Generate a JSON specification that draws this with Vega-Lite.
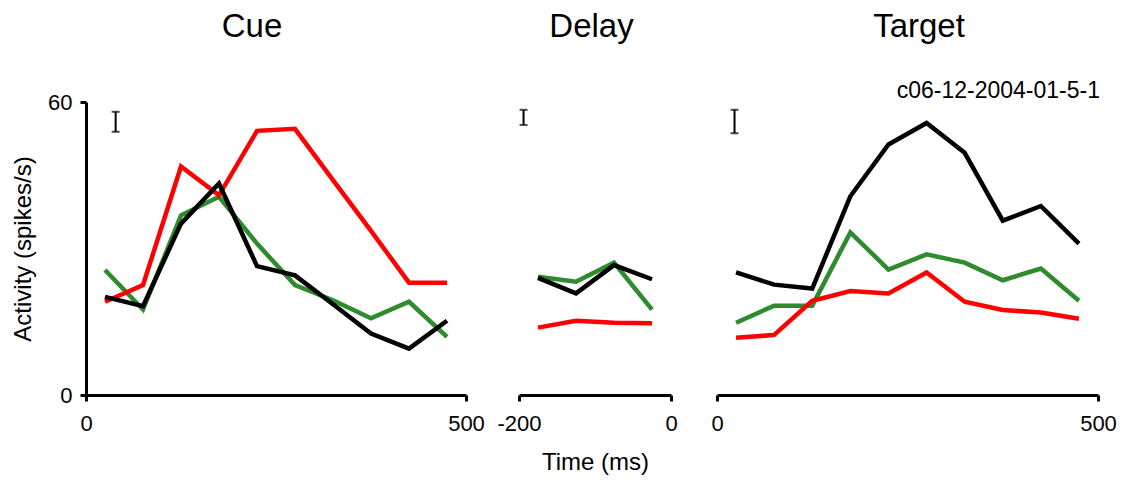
{
  "$schema": "https://vega.github.io/schema/vega-lite/v6.json",
  "padding": {"left": 11, "top": 10, "right": 5, "bottom": 5},
  "background": "white",
  "bounds": "flush",
  "spacing": 53,
  "datasets": {
    "rates": [
      {"panel": "Cue", "cond": "green", "t": 25, "rate": 25.6},
      {"panel": "Cue", "cond": "green", "t": 75, "rate": 17.5},
      {"panel": "Cue", "cond": "green", "t": 125, "rate": 36.8},
      {"panel": "Cue", "cond": "green", "t": 175, "rate": 40.6},
      {"panel": "Cue", "cond": "green", "t": 225, "rate": 31.0},
      {"panel": "Cue", "cond": "green", "t": 275, "rate": 22.5},
      {"panel": "Cue", "cond": "green", "t": 325, "rate": 19.4},
      {"panel": "Cue", "cond": "green", "t": 375, "rate": 15.7},
      {"panel": "Cue", "cond": "green", "t": 425, "rate": 19.1},
      {"panel": "Cue", "cond": "green", "t": 475, "rate": 11.9},
      {"panel": "Cue", "cond": "red", "t": 25, "rate": 19.1},
      {"panel": "Cue", "cond": "red", "t": 75, "rate": 22.5},
      {"panel": "Cue", "cond": "red", "t": 125, "rate": 46.8},
      {"panel": "Cue", "cond": "red", "t": 175, "rate": 40.9},
      {"panel": "Cue", "cond": "red", "t": 225, "rate": 54.1},
      {"panel": "Cue", "cond": "red", "t": 275, "rate": 54.5},
      {"panel": "Cue", "cond": "red", "t": 325, "rate": 44.0},
      {"panel": "Cue", "cond": "red", "t": 375, "rate": 33.6},
      {"panel": "Cue", "cond": "red", "t": 425, "rate": 23.0},
      {"panel": "Cue", "cond": "red", "t": 475, "rate": 23.0},
      {"panel": "Cue", "cond": "black", "t": 25, "rate": 20.1},
      {"panel": "Cue", "cond": "black", "t": 75, "rate": 18.2},
      {"panel": "Cue", "cond": "black", "t": 125, "rate": 35.1},
      {"panel": "Cue", "cond": "black", "t": 175, "rate": 43.3},
      {"panel": "Cue", "cond": "black", "t": 225, "rate": 26.4},
      {"panel": "Cue", "cond": "black", "t": 275, "rate": 24.5},
      {"panel": "Cue", "cond": "black", "t": 325, "rate": 18.6},
      {"panel": "Cue", "cond": "black", "t": 375, "rate": 12.6},
      {"panel": "Cue", "cond": "black", "t": 425, "rate": 9.5},
      {"panel": "Cue", "cond": "black", "t": 475, "rate": 15.2},
      {"panel": "Delay", "cond": "green", "t": -175, "rate": 24.2},
      {"panel": "Delay", "cond": "green", "t": -125, "rate": 23.2},
      {"panel": "Delay", "cond": "green", "t": -75, "rate": 27.1},
      {"panel": "Delay", "cond": "green", "t": -25, "rate": 17.5},
      {"panel": "Delay", "cond": "red", "t": -175, "rate": 13.8},
      {"panel": "Delay", "cond": "red", "t": -125, "rate": 15.2},
      {"panel": "Delay", "cond": "red", "t": -75, "rate": 14.8},
      {"panel": "Delay", "cond": "red", "t": -25, "rate": 14.7},
      {"panel": "Delay", "cond": "black", "t": -175, "rate": 24.0},
      {"panel": "Delay", "cond": "black", "t": -125, "rate": 20.8},
      {"panel": "Delay", "cond": "black", "t": -75, "rate": 26.6},
      {"panel": "Delay", "cond": "black", "t": -25, "rate": 23.7},
      {"panel": "Target", "cond": "green", "t": 25, "rate": 14.8},
      {"panel": "Target", "cond": "green", "t": 75, "rate": 18.3},
      {"panel": "Target", "cond": "green", "t": 125, "rate": 18.3},
      {"panel": "Target", "cond": "green", "t": 175, "rate": 33.3},
      {"panel": "Target", "cond": "green", "t": 225, "rate": 25.7},
      {"panel": "Target", "cond": "green", "t": 275, "rate": 28.8},
      {"panel": "Target", "cond": "green", "t": 325, "rate": 27.1},
      {"panel": "Target", "cond": "green", "t": 375, "rate": 23.5},
      {"panel": "Target", "cond": "green", "t": 425, "rate": 25.9},
      {"panel": "Target", "cond": "green", "t": 475, "rate": 19.3},
      {"panel": "Target", "cond": "red", "t": 25, "rate": 11.7},
      {"panel": "Target", "cond": "red", "t": 75, "rate": 12.3},
      {"panel": "Target", "cond": "red", "t": 125, "rate": 19.3},
      {"panel": "Target", "cond": "red", "t": 175, "rate": 21.3},
      {"panel": "Target", "cond": "red", "t": 225, "rate": 20.8},
      {"panel": "Target", "cond": "red", "t": 275, "rate": 25.1},
      {"panel": "Target", "cond": "red", "t": 325, "rate": 19.1},
      {"panel": "Target", "cond": "red", "t": 375, "rate": 17.4},
      {"panel": "Target", "cond": "red", "t": 425, "rate": 16.9},
      {"panel": "Target", "cond": "red", "t": 475, "rate": 15.6},
      {"panel": "Target", "cond": "black", "t": 25, "rate": 25.1},
      {"panel": "Target", "cond": "black", "t": 75, "rate": 22.6},
      {"panel": "Target", "cond": "black", "t": 125, "rate": 21.8},
      {"panel": "Target", "cond": "black", "t": 175, "rate": 40.7},
      {"panel": "Target", "cond": "black", "t": 225, "rate": 51.3},
      {"panel": "Target", "cond": "black", "t": 275, "rate": 55.7},
      {"panel": "Target", "cond": "black", "t": 325, "rate": 49.6},
      {"panel": "Target", "cond": "black", "t": 375, "rate": 35.7},
      {"panel": "Target", "cond": "black", "t": 425, "rate": 38.7},
      {"panel": "Target", "cond": "black", "t": 475, "rate": 31.0}
    ],
    "errs": [
      {"panel": "Cue", "t": 39, "lo": 53.9, "hi": 58.0},
      {"panel": "Delay", "t": -194, "lo": 55.3, "hi": 58.4},
      {"panel": "Target", "t": 23, "lo": 53.6, "hi": 58.4}
    ],
    "titles": [
      {"panel": "Cue", "label": "Cue"},
      {"panel": "Delay", "label": "Delay"},
      {"panel": "Target", "label": "Target"}
    ],
    "notes": [
      {"panel": "Target", "label": "c06-12-2004-01-5-1"}
    ]
  },
  "hconcat": [
    {
      "width": 380,
      "height": 293,
      "layer": [
        {
          "data": {"name": "rates"},
          "transform": [{"filter": "datum.panel === 'Cue'"}],
          "mark": {"type": "line", "strokeWidth": 4.5},
          "encoding": {
            "x": {"field": "t", "type": "quantitative", "scale": {"domain": [0, 500]}, "axis": {"values": [0, 500], "title": null}},
            "y": {"field": "rate", "type": "quantitative", "scale": {"domain": [0, 60]}, "axis": {"values": [0, 60], "title": "Activity (spikes/s)"}},
            "color": {"field": "cond", "type": "nominal", "scale": {"domain": ["green", "red", "black"], "range": ["#2e8b2e", "#ff0000", "#000000"]}, "legend": null}
          }
        },
        {
          "data": {"name": "errs"},
          "transform": [{"filter": "datum.panel === 'Cue'"}],
          "mark": {"type": "errorbar", "ticks": {"size": 8}, "thickness": 2, "color": "black"},
          "encoding": {
            "x": {"field": "t", "type": "quantitative", "scale": {"domain": [0, 500]}, "title": null},
            "y": {"field": "lo", "type": "quantitative", "scale": {"domain": [0, 60]}, "title": "Activity (spikes/s)"},
            "y2": {"field": "hi"}
          }
        },
        {
          "data": {"name": "titles"},
          "transform": [{"filter": "datum.panel === 'Cue'"}],
          "mark": {"type": "text", "align": "center", "baseline": "alphabetic", "fontSize": 33, "font": "Liberation Sans", "color": "black", "dx": -24},
          "encoding": {"x": {"datum": 250}, "y": {"datum": 73.4}, "text": {"field": "label"}}
        }
      ]
    },
    {
      "bounds": "flush",
      "spacing": 46,
      "hconcat": [
        {
          "width": 152,
          "height": 293,
          "layer": [
            {
              "data": {"name": "rates"},
              "transform": [{"filter": "datum.panel === 'Delay'"}],
              "mark": {"type": "line", "strokeWidth": 4.5},
              "encoding": {
                "x": {"field": "t", "type": "quantitative", "scale": {"domain": [-200, 0]}, "axis": {"values": [-200, 0], "title": "Time (ms)", "labelExpr": "replace(datum.label, '\u2212', '-')"}},
                "y": {"field": "rate", "type": "quantitative", "scale": {"domain": [0, 60]}, "axis": null},
                "color": {"field": "cond", "type": "nominal", "scale": {"domain": ["green", "red", "black"], "range": ["#2e8b2e", "#ff0000", "#000000"]}, "legend": null}
              }
            },
            {
              "data": {"name": "errs"},
              "transform": [{"filter": "datum.panel === 'Delay'"}],
              "mark": {"type": "errorbar", "ticks": {"size": 8}, "thickness": 2, "color": "black"},
              "encoding": {
                "x": {"field": "t", "type": "quantitative", "scale": {"domain": [-200, 0]}, "title": "Time (ms)"},
                "y": {"field": "lo", "type": "quantitative", "scale": {"domain": [0, 60]}, "axis": null},
                "y2": {"field": "hi"}
              }
            },
            {
              "data": {"name": "titles"},
              "transform": [{"filter": "datum.panel === 'Delay'"}],
              "mark": {"type": "text", "align": "center", "baseline": "alphabetic", "fontSize": 33, "font": "Liberation Sans", "color": "black", "dx": -3.5},
              "encoding": {"x": {"datum": -100}, "y": {"datum": 73.4}, "text": {"field": "label"}}
            }
          ]
        },
        {
          "width": 381,
          "height": 293,
          "layer": [
            {
              "data": {"name": "rates"},
              "transform": [{"filter": "datum.panel === 'Target'"}],
              "mark": {"type": "line", "strokeWidth": 4.5},
              "encoding": {
                "x": {"field": "t", "type": "quantitative", "scale": {"domain": [0, 500]}, "axis": {"values": [0, 500], "title": null}},
                "y": {"field": "rate", "type": "quantitative", "scale": {"domain": [0, 60]}, "axis": null},
                "color": {"field": "cond", "type": "nominal", "scale": {"domain": ["green", "red", "black"], "range": ["#2e8b2e", "#ff0000", "#000000"]}, "legend": null}
              }
            },
            {
              "data": {"name": "errs"},
              "transform": [{"filter": "datum.panel === 'Target'"}],
              "mark": {"type": "errorbar", "ticks": {"size": 8}, "thickness": 2, "color": "black"},
              "encoding": {
                "x": {"field": "t", "type": "quantitative", "scale": {"domain": [0, 500]}, "title": null},
                "y": {"field": "lo", "type": "quantitative", "scale": {"domain": [0, 60]}, "axis": null},
                "y2": {"field": "hi"}
              }
            },
            {
              "data": {"name": "titles"},
              "transform": [{"filter": "datum.panel === 'Target'"}],
              "mark": {"type": "text", "align": "center", "baseline": "alphabetic", "fontSize": 33, "font": "Liberation Sans", "color": "black", "dx": 11.5},
              "encoding": {"x": {"datum": 250}, "y": {"datum": 73.4}, "text": {"field": "label"}}
            },
            {
              "data": {"name": "notes"},
              "mark": {"type": "text", "align": "right", "baseline": "alphabetic", "fontSize": 23, "font": "Liberation Sans", "color": "black", "dx": 2},
              "encoding": {"x": {"datum": 500}, "y": {"datum": 60.8}, "text": {"field": "label"}}
            }
          ]
        }
      ]
    }
  ],
  "config": {
    "view": {"stroke": null},
    "font": "Liberation Sans",
    "axis": {
      "grid": false,
      "domainColor": "black",
      "domainWidth": 3,
      "tickColor": "black",
      "tickWidth": 3,
      "tickSize": 6,
      "labelFont": "Liberation Sans",
      "labelFontSize": 22,
      "labelColor": "black",
      "labelFlush": false,
      "labelOverlap": false,
      "titleFont": "Liberation Sans",
      "titleFontSize": 24,
      "titleFontWeight": "normal",
      "titleColor": "black"
    },
    "axisX": {"labelPadding": 12, "titlePadding": 16},
    "axisY": {"labelPadding": 8, "titlePadding": 12.5}
  }
}
